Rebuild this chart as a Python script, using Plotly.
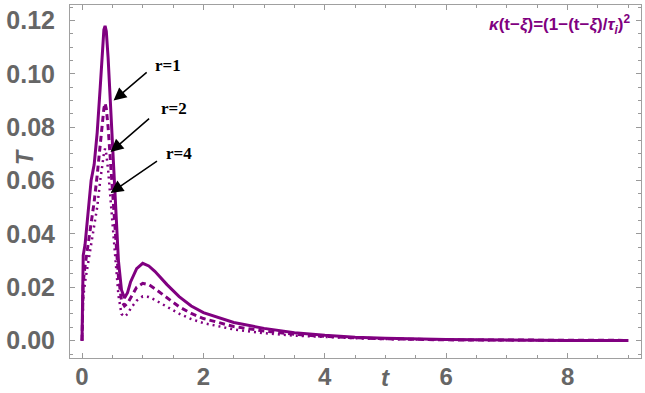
import plotly.graph_objects as go

# ---- data ----
t = [0, 0.005, 0.02, 0.05, 0.1, 0.15, 0.2, 0.25, 0.3, 0.33, 0.36, 0.38, 0.40, 0.43,
     0.46, 0.5, 0.55, 0.6, 0.65, 0.7, 0.75, 0.8, 0.9, 1.0, 1.1, 1.2, 1.4, 1.6, 1.8,
     2.0, 2.5, 3.0, 3.5, 4.0, 4.5, 5.0, 6.0, 7.0, 8.0, 9.0]
T_r1 = [0, 0.005, 0.032, 0.036, 0.048, 0.060, 0.066, 0.078, 0.095, 0.108, 0.1165,
        0.118, 0.116, 0.106, 0.093, 0.075, 0.050, 0.030, 0.019, 0.016, 0.018, 0.022,
        0.027, 0.029, 0.028, 0.026, 0.021, 0.0165, 0.013, 0.0105, 0.0068, 0.0046,
        0.003, 0.002, 0.0013, 0.0009, 0.0004, 0.0002, 0.0001, 0.0001]
T_r2 = [0, 0.004, 0.022, 0.028, 0.036, 0.045, 0.052, 0.062, 0.074, 0.081, 0.087,
        0.089, 0.087, 0.080, 0.070, 0.056, 0.038, 0.024, 0.015, 0.013, 0.014, 0.016,
        0.020, 0.0215, 0.021, 0.0195, 0.016, 0.0127, 0.0102, 0.0083, 0.0053, 0.0036,
        0.0024, 0.0016, 0.0011, 0.0007, 0.0003, 0.00015, 0.0001, 0.0001]
T_r4 = [0, 0.003, 0.016, 0.022, 0.029, 0.036, 0.042, 0.050, 0.060, 0.066, 0.070,
        0.072, 0.070, 0.064, 0.056, 0.044, 0.029, 0.017, 0.010, 0.009, 0.010, 0.012,
        0.015, 0.0166, 0.0164, 0.0153, 0.0127, 0.0101, 0.0081, 0.0066, 0.0042, 0.0028,
        0.0019, 0.0013, 0.0009, 0.0006, 0.0003, 0.00012, 0.0001, 0.0001]
series_names = ["r=1", "r=2", "r=4"]
x_tickvals = [0, 2, 4, 6, 8]
y_tickvals = [0.00, 0.02, 0.04, 0.06, 0.08, 0.10, 0.12]
y_ticktext = ["0.00", "0.02", "0.04", "0.06", "0.08", "0.10", "0.12"]

PURPLE = "#800080"
GRAY = "#666666"
TICK_SIZE = 25

fig = go.Figure()
fig.add_trace(go.Scatter(x=t, y=T_r1, mode="lines", name=series_names[0],
                         line=dict(color=PURPLE, width=3)))
fig.add_trace(go.Scatter(x=t, y=T_r2, mode="lines", name=series_names[1],
                         line=dict(color=PURPLE, width=3, dash="6px,4px")))
fig.add_trace(go.Scatter(x=t, y=T_r4, mode="lines", name=series_names[2],
                         line=dict(color=PURPLE, width=2.5, dash="2px,4px")))

# arrows and labels
arrows = [
    (series_names[0], (0.52, 0.090), (1.09, 0.101), (1.41, 0.1032)),
    (series_names[1], (0.47, 0.0707), (1.13, 0.0837), (1.51, 0.087)),
    (series_names[2], (0.47, 0.0553), (1.26, 0.0677), (1.59, 0.070)),
]
for name, head, tail, lab in arrows:
    fig.add_annotation(x=head[0], y=head[1], ax=tail[0], ay=tail[1],
                       xref="x", yref="y", axref="x", ayref="y",
                       showarrow=True, arrowhead=2, arrowsize=1.7, arrowwidth=1.5,
                       arrowcolor="black", text="")
    fig.add_annotation(x=lab[0], y=lab[1], xref="x", yref="y", text="<b>%s</b>" % name,
                       showarrow=False,
                       font=dict(family="Liberation Serif", size=17, color="black"))

fig.add_annotation(x=0.985, y=0.985, xref="paper", yref="paper", xanchor="right",
                   yanchor="top", showarrow=False,
                   text="<b><i>κ</i>(t−<i>ξ</i>)=(1−(t−<i>ξ</i>)/<i>τ<sub>i</sub></i>)<sup>2</sup></b>",
                   font=dict(family="Liberation Sans", size=17, color=PURPLE))

# axis titles as annotations
fig.add_annotation(x=5.0, y=-0.055, xref="x", yref="paper", text="<b><i>t</i></b>",
                   showarrow=False, yanchor="middle",
                   font=dict(family="Liberation Sans", size=24, color=GRAY))
fig.add_annotation(x=-0.08, y=0.57, xref="paper", yref="paper", text="<b><i>T</i></b>",
                   showarrow=False, textangle=-90, xanchor="center", yanchor="middle",
                   font=dict(family="Liberation Sans", size=TICK_SIZE - 2, color=GRAY))

fig.update_layout(
    width=645, height=393,
    margin=dict(l=70, r=4, t=5, b=35),
    paper_bgcolor="white", plot_bgcolor="white",
    showlegend=False,
)
fig.update_xaxes(range=[-0.198, 9.21], tickvals=x_tickvals, automargin=False,
                 ticks="inside", ticklen=5, tickcolor="#999999", tickwidth=1,
                 showline=True, linecolor="#a0a0a0", linewidth=1, mirror="allticks",
                 showgrid=False, zeroline=False,
                 tickfont=dict(family="Liberation Sans", size=24, color=GRAY,
                               weight="bold"),
                 ticklabelstandoff=-3,
                 minor=dict(ticks="inside", ticklen=3, dtick=0.5, tick0=0,
                            tickcolor="#999999", showgrid=False))
fig.update_yaxes(range=[-0.0065, 0.1258], tickvals=y_tickvals, ticktext=y_ticktext,
                 automargin=False,
                 ticks="inside", ticklen=5, tickcolor="#999999", tickwidth=1,
                 showline=True, linecolor="#a0a0a0", linewidth=1, mirror="allticks",
                 showgrid=False, zeroline=False,
                 tickfont=dict(family="Liberation Sans", size=TICK_SIZE, color=GRAY,
                               weight="bold"),
                 ticklabelstandoff=9,
                 minor=dict(ticks="inside", ticklen=3, dtick=0.005, tick0=0,
                            tickcolor="#999999", showgrid=False))

fig.write_html("out.html")
